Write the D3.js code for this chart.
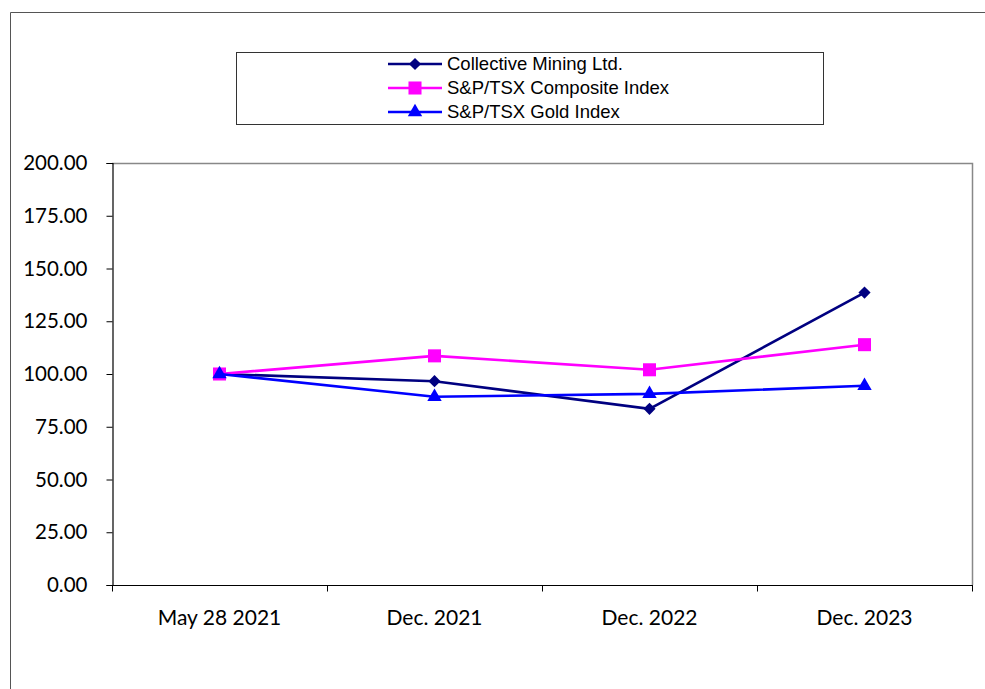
<!DOCTYPE html>
<html>
<head>
<meta charset="utf-8">
<script src="https://cdn.jsdelivr.net/npm/d3@7"></script>
<style>
  body { margin: 0; background: #fff; }
  svg { display: block; }
</style>
</head>
<body>
<svg id="chart" width="985" height="689"></svg>
<script>
// chart data
var categories = ['May 28 2021', 'Dec. 2021', 'Dec. 2022', 'Dec. 2023'];
var seriesNames = ['Collective Mining Ltd.', 'S&P/TSX Composite Index', 'S&P/TSX Gold Index'];
var collectiveValues = [100, 96.6, 83.5, 138.6];
var compositeValues = [100, 108.6, 102.0, 113.9];
var goldValues = [100, 89.2, 90.6, 94.4];
var yTicks = [0, 25, 50, 75, 100, 125, 150, 175, 200];

var series = [
    { name: seriesNames[0], values: collectiveValues, color: '#000080', shape: 'diamond' },
    { name: seriesNames[1], values: compositeValues, color: '#FF00FF', shape: 'square' },
    { name: seriesNames[2], values: goldValues, color: '#0000FF', shape: 'triangle' }
];

var svg = d3.select('#chart');
var plotLeft = 112, plotTop = 163, plotRight = 972, plotBottom = 585;

// outer frame
svg.append('path')
    .attr('d', 'M10.5,689 V12.5 H985')
    .attr('fill', 'none')
    .attr('stroke', '#555')
    .attr('stroke-width', 1);

var x = d3.scaleBand().domain(categories).range([plotLeft, plotRight]);
var y = d3.scaleLinear().domain([0, 200]).range([plotBottom, plotTop]);

// plot area border (top/right gray)
svg.append('path')
    .attr('d', 'M' + plotLeft + ',' + (plotTop + 0.5) + ' H' + (plotRight + 0.5) + ' V' + plotBottom)
    .attr('fill', 'none')
    .attr('stroke', '#888')
    .attr('stroke-width', 1.5);

// y axis
var yAxis = svg.append('g')
    .attr('transform', 'translate(' + (plotLeft + 0.5) + ',0)')
    .call(d3.axisLeft(y).tickValues(yTicks).tickSize(6).tickFormat(d3.format('.2f')));
yAxis.select('.domain').attr('stroke', '#000').attr('stroke-width', 1.2);
yAxis.selectAll('.tick line').attr('stroke', '#000');
yAxis.selectAll('text')
    .attr('x', -25)
    .attr('fill', '#000')
    .style('font-family', 'Lato, "Open Sans", sans-serif')
    .style('font-size', '20.5px');

// x axis: ticks between categories
var xAxisG = svg.append('g').attr('transform', 'translate(0,' + (plotBottom + 0.5) + ')');
xAxisG.append('line')
    .attr('x1', plotLeft).attr('x2', plotRight + 1)
    .attr('stroke', '#000').attr('stroke-width', 1.2);
var boundaries = categories.map(function(c) { return x(c); }).concat([x(categories[categories.length - 1]) + x.bandwidth()]);
xAxisG.selectAll('.xtick').data(boundaries).enter().append('line')
    .attr('x1', function(d) { return Math.round(d) + 0.5; })
    .attr('x2', function(d) { return Math.round(d) + 0.5; })
    .attr('y1', 0).attr('y2', 6)
    .attr('stroke', '#000');
xAxisG.selectAll('.xlabel').data(categories).enter().append('text')
    .attr('x', function(d) { return x(d) + x.bandwidth() / 2; })
    .attr('y', 39)
    .attr('text-anchor', 'middle')
    .attr('fill', '#000')
    .style('font-family', 'Lato, "Open Sans", sans-serif')
    .style('font-size', '21px')
    .text(function(d) { return d; });

var symbolFor = {
    diamond: d3.symbol().type(d3.symbolSquare).size(74),
    square: d3.symbol().type(d3.symbolSquare).size(170),
    triangle: d3.symbol().type(d3.symbolTriangle).size(90)
};
var rotFor = { diamond: 45, square: 0, triangle: 0 };

var line = d3.line()
    .x(function(d, i) { return x(categories[i]) + x.bandwidth() / 2; })
    .y(function(d) { return y(d); });

series.forEach(function(s) {
    svg.append('path')
        .datum(s.values)
        .attr('d', line)
        .attr('fill', 'none')
        .attr('stroke', s.color)
        .attr('stroke-width', 2.6);
    svg.selectAll(null).data(s.values).enter().append('path')
        .attr('d', symbolFor[s.shape])
        .attr('transform', function(d, i) {
            return 'translate(' + (x(categories[i]) + x.bandwidth() / 2) + ',' + y(d) + ') rotate(' + rotFor[s.shape] + ')';
        })
        .attr('fill', s.color);
});

// legend
var legend = svg.append('g');
legend.append('rect')
    .attr('x', 236.5).attr('y', 52.5)
    .attr('width', 587).attr('height', 72)
    .attr('fill', '#fff').attr('stroke', '#333').attr('stroke-width', 1);
series.forEach(function(s, i) {
    var ly = 64 + i * 24;
    legend.append('line')
        .attr('x1', 388).attr('x2', 442)
        .attr('y1', ly).attr('y2', ly)
        .attr('stroke', s.color).attr('stroke-width', 2.6);
    legend.append('path')
        .attr('d', symbolFor[s.shape])
        .attr('transform', 'translate(415,' + ly + ') rotate(' + rotFor[s.shape] + ')')
        .attr('fill', s.color);
    legend.append('text')
        .attr('x', 447).attr('y', ly)
        .attr('dy', '0.35em')
        .attr('fill', '#000')
        .style('font-family', '"Liberation Sans", Arial, sans-serif')
        .style('font-size', '18.5px')
        .text(s.name);
});
</script>
</body>
</html>
